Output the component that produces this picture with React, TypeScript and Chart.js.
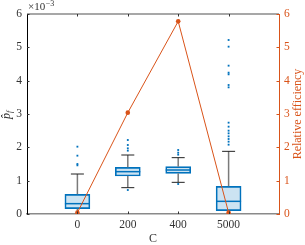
import { useEffect, useRef } from 'react';
import { Chart, registerables } from 'chart.js';
Chart.register(...registerables);

const categories = ['0', '200', '400', '5000'];
const q1 = [0.16, 1.14, 1.22, 0.1];
const q3 = [0.59, 1.4, 1.42, 0.83];
const medians = [0.31, 1.27, 1.32, 0.38];
const whiskerLow = [0.0, 0.79, 0.95, 0.0];
const whiskerHigh = [1.2, 1.77, 1.69, 1.88];
const outliers0 = [2.02, 1.75, 1.5, 1.46];
const outliers200 = [2.22, 2.07, 1.97, 1.9, 0.72];
const outliers400 = [1.92, 1.84, 1.78, 0.9];
const outliers5000 = [5.22, 5.02, 4.45, 4.24, 4.19, 3.87, 3.8, 2.74, 2.62, 2.5, 2.42, 2.33, 2.25, 2.17, 2.08];
const efficiency = [0.04, 3.04, 5.78, 0.04];
const leftTicks = [0, 1, 2, 3, 4, 5, 6];
const rightTicks = [0, 1, 2, 3, 4, 5, 6];

const BLUE = '#0072BD';
const ORANGE = '#D95319';
const SERIF = "'Liberation Serif', serif";

const outlierGroups = [outliers0, outliers200, outliers400, outliers5000];

const boxPlugin = {
  id: 'boxParts',
  afterDatasetDraw(chart: any, args: any) {
    if (args.index !== 0) return;
    const ctx = chart.ctx;
    const xs = chart.scales.x;
    const ys = chart.scales.y;
    ctx.save();
    categories.forEach((_, i) => {
      const cx = xs.getPixelForValue(i + 1);
      const half = 12.5;
      ctx.strokeStyle = BLUE;
      ctx.lineWidth = 1.5;
      const my = ys.getPixelForValue(medians[i]);
      ctx.beginPath();
      ctx.moveTo(cx - half, my);
      ctx.lineTo(cx + half, my);
      ctx.stroke();
      ctx.strokeStyle = '#7a7a7a';
      ctx.lineWidth = 1.5;
      ctx.beginPath();
      ctx.moveTo(cx, ys.getPixelForValue(q3[i]));
      ctx.lineTo(cx, ys.getPixelForValue(whiskerHigh[i]));
      ctx.moveTo(cx, ys.getPixelForValue(q1[i]));
      ctx.lineTo(cx, ys.getPixelForValue(whiskerLow[i]));
      ctx.stroke();
      ctx.strokeStyle = '#222';
      ctx.lineWidth = 1;
      const capH = 6.5;
      ctx.beginPath();
      const hy = ys.getPixelForValue(whiskerHigh[i]);
      ctx.moveTo(cx - capH, hy);
      ctx.lineTo(cx + capH, hy);
      if (whiskerLow[i] > 0.02) {
        const ly = ys.getPixelForValue(whiskerLow[i]);
        ctx.moveTo(cx - capH, ly);
        ctx.lineTo(cx + capH, ly);
      }
      ctx.stroke();
    });
    ctx.restore();
  },
  afterDraw(chart: any) {
    const ctx = chart.ctx;
    const { left, right, top, bottom } = chart.chartArea;
    const xs = chart.scales.x;
    const ys = chart.scales.y;
    const ys2 = chart.scales.y2;
    ctx.save();
    ctx.strokeStyle = '#8a8a8a';
    ctx.lineWidth = 1.5;
    ctx.beginPath();
    ctx.moveTo(left, top);
    ctx.lineTo(right, top);
    ctx.stroke();
    ctx.lineWidth = 1;
    ctx.strokeStyle = '#333';
    ctx.beginPath();
    leftTicks.forEach((v) => {
      const py = Math.round(ys.getPixelForValue(v)) + 0.5;
      ctx.moveTo(left, py);
      ctx.lineTo(left + 2.5, py);
    });
    categories.forEach((_, i) => {
      const px = Math.round(xs.getPixelForValue(i + 1)) + 0.5;
      ctx.moveTo(px, bottom);
      ctx.lineTo(px, bottom - 2.5);
      ctx.moveTo(px, top);
      ctx.lineTo(px, top + 2.5);
    });
    ctx.stroke();
    ctx.strokeStyle = ORANGE;
    ctx.beginPath();
    rightTicks.forEach((v) => {
      const py = Math.round(ys2.getPixelForValue(v)) + 0.5;
      ctx.moveTo(right, py);
      ctx.lineTo(right - 2.5, py);
    });
    ctx.stroke();
    ctx.fillStyle = '#333';
    ctx.textBaseline = 'alphabetic';
    ctx.textAlign = 'left';
    ctx.font = `11px ${SERIF}`;
    ctx.fillText('×10', left + 1, 10);
    const w = ctx.measureText('×10').width;
    ctx.font = `8px ${SERIF}`;
    ctx.fillText('−3', left + 1 + w + 0.5, 5.5);
    ctx.textAlign = 'center';
    ctx.textBaseline = 'middle';
    ctx.font = `12px ${SERIF}`;
    ctx.fillStyle = '#333';
    ctx.fillText('C', (left + right) / 2, 239);
    ctx.save();
    ctx.translate(7, (top + bottom) / 2);
    ctx.rotate(-Math.PI / 2);
    ctx.font = `italic 12px ${SERIF}`;
    ctx.textAlign = 'left';
    ctx.fillText('p\u0302', -5, 0);
    const pw = ctx.measureText('p').width;
    ctx.font = `italic 8px ${SERIF}`;
    ctx.fillText('f', -5 + pw, 3);
    ctx.restore();
    ctx.save();
    ctx.translate(298, (top + bottom) / 2);
    ctx.rotate(-Math.PI / 2);
    ctx.font = `12px ${SERIF}`;
    ctx.fillStyle = ORANGE;
    ctx.textAlign = 'center';
    ctx.fillText('Relative efficiency', 0, 0);
    ctx.restore();
    ctx.restore();
  },
};

export default function App() {
  const ref = useRef<HTMLCanvasElement | null>(null);
  useEffect(() => {
    if (!ref.current) return;
    const tickFont = { family: SERIF, size: 11.5 };
    const chart = new Chart(ref.current, {
      type: 'bar',
      data: {
        datasets: [
          {
            type: 'bar',
            data: categories.map((_, i) => ({ x: i + 1, y: [q1[i], q3[i]] })) as any,
            backgroundColor: 'rgba(0,114,189,0.2)',
            borderColor: BLUE,
            borderWidth: 1,
            borderSkipped: false,
            barThickness: 25,
            order: 2,
            xAxisID: 'x',
            yAxisID: 'y',
          } as any,
          {
            type: 'scatter',
            data: outlierGroups.flatMap((g, i) => g.map((v) => ({ x: i + 1, y: v }))),
            pointStyle: 'rect',
            pointRadius: 1.3,
            backgroundColor: BLUE,
            borderColor: BLUE,
            borderWidth: 0,
            order: 1,
            xAxisID: 'x',
            yAxisID: 'y',
          } as any,
          {
            type: 'line',
            data: categories.map((_, i) => ({ x: i + 1, y: efficiency[i] })),
            borderColor: ORANGE,
            backgroundColor: ORANGE,
            borderWidth: 1,
            pointRadius: 2.3,
            pointBorderWidth: 0,
            fill: false,
            order: 0,
            xAxisID: 'x',
            yAxisID: 'y2',
          } as any,
        ],
      },
      options: {
        animation: false,
        responsive: false,
        layout: { padding: { top: 14, left: 0, right: 0, bottom: 0 } },
        plugins: { legend: { display: false }, tooltip: { enabled: false } },
        scales: {
          x: {
            type: 'linear',
            offset: false,
            min: 0,
            max: 5,
            afterBuildTicks: (s: any) => {
              s.ticks = categories.map((_, i) => ({ value: i + 1 }));
            },
            afterFit: (s: any) => {
              s.height = 31;
            },
            ticks: {
              callback: (v: any) => categories[Math.round(Number(v)) - 1] ?? '',
              font: tickFont,
              color: '#333',
              padding: 4,
              maxRotation: 0,
              autoSkip: false,
            },
            grid: { display: true, drawOnChartArea: false, drawTicks: false, offset: false },
            border: { color: '#8a8a8a', width: 1.5 },
          },
          y: {
            position: 'left',
            min: 0,
            max: 6,
            afterBuildTicks: (s: any) => {
              s.ticks = leftTicks.map((v) => ({ value: v }));
            },
            afterFit: (s: any) => {
              s.width = 27;
            },
            ticks: { font: tickFont, color: '#333', padding: 5 },
            grid: { display: true, drawOnChartArea: false, drawTicks: false },
            border: { color: '#000', width: 1 },
          },
          y2: {
            position: 'right',
            min: 0,
            max: 6,
            afterBuildTicks: (s: any) => {
              s.ticks = rightTicks.map((v) => ({ value: v }));
            },
            afterFit: (s: any) => {
              s.width = 26;
            },
            ticks: { font: tickFont, color: ORANGE, padding: 5 },
            grid: { display: true, drawOnChartArea: false, drawTicks: false },
            border: { color: ORANGE, width: 1 },
          },
        },
      } as any,
      plugins: [boxPlugin],
    });
    return () => chart.destroy();
  }, []);
  return (
    <div style={{ position: 'absolute', left: 0, top: 0, width: 305, height: 245, background: '#fff' }}>
      <canvas ref={ref} width={305} height={245} style={{ display: 'block' }} />
    </div>
  );
}
